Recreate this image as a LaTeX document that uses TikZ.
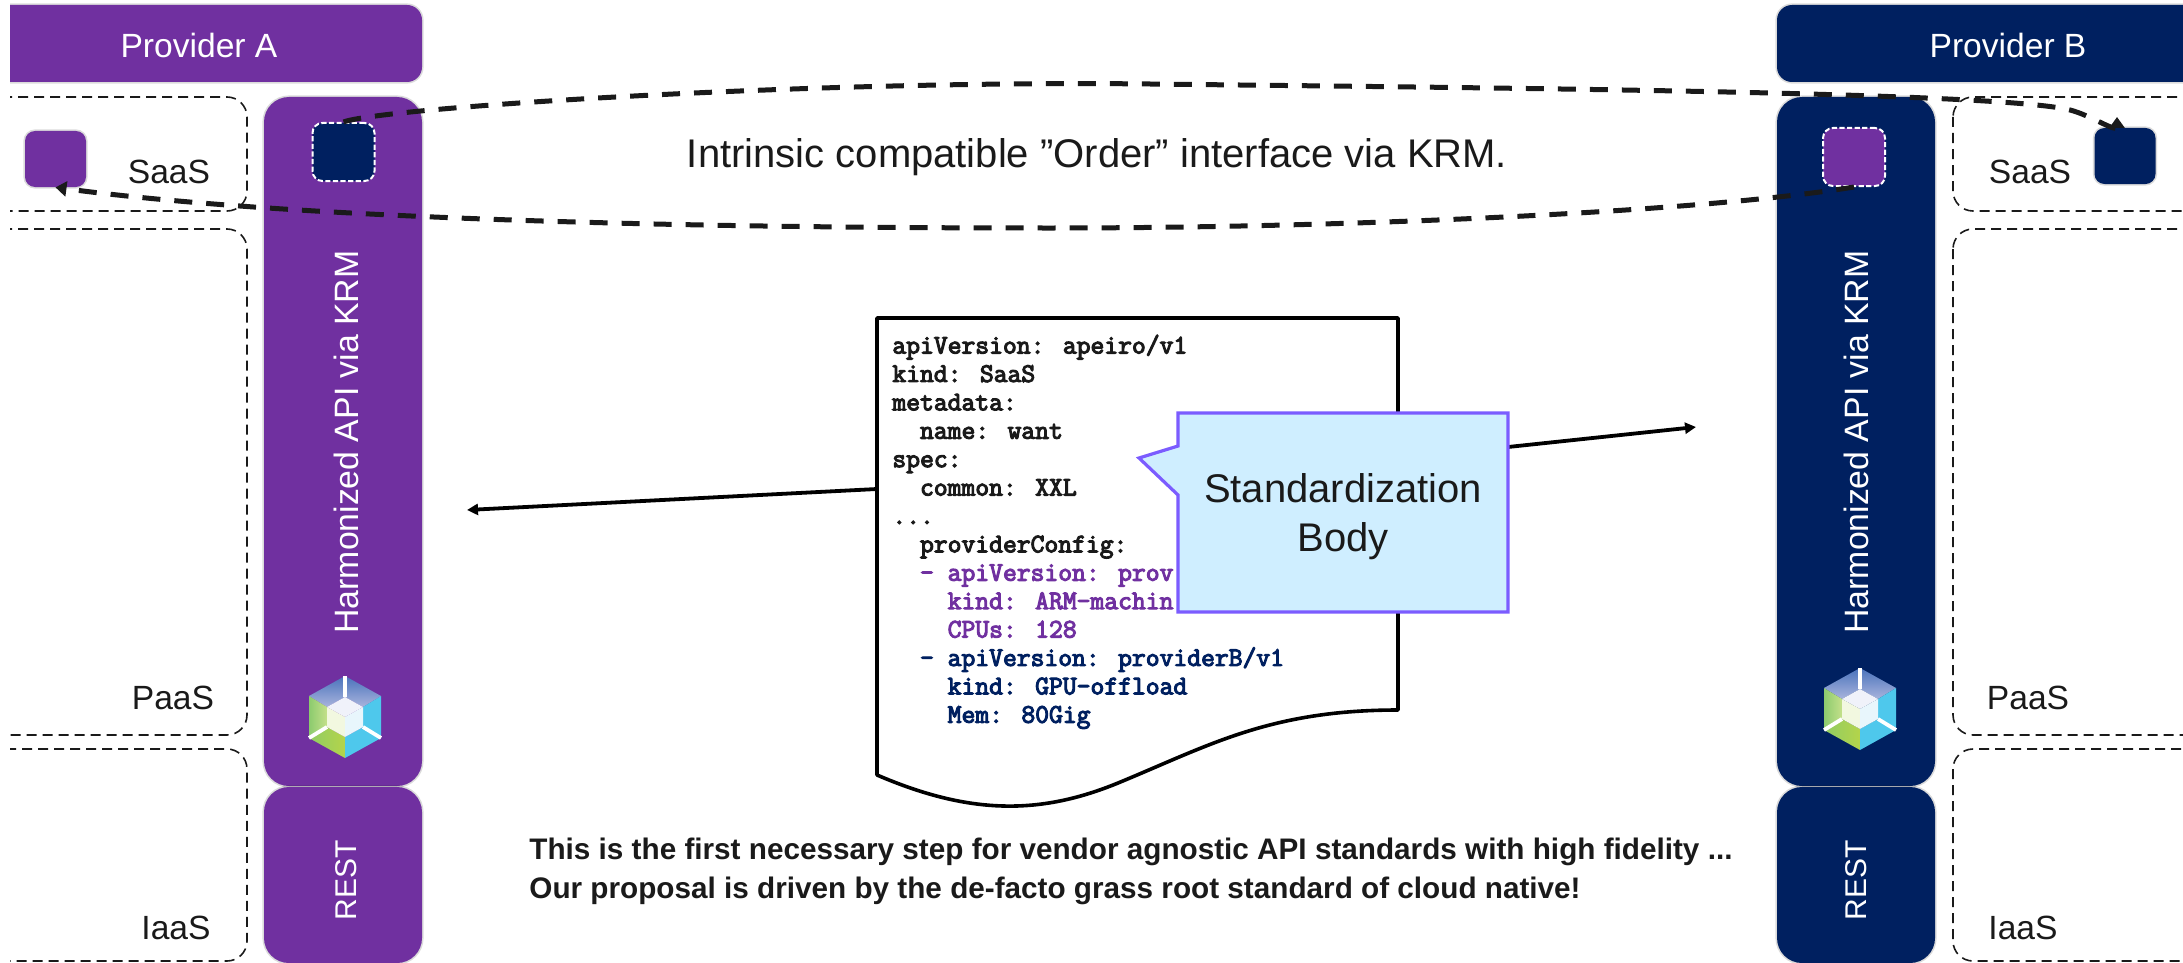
\documentclass[tikz,border=0pt]{standalone}
\usepackage{fontspec}
\setmainfont{Liberation Sans}
\newfontfamily\codefont[FakeBold=4]{Latin Modern Mono}
\usetikzlibrary{arrows.meta}
\definecolor{provA}{HTML}{7030A0}
\definecolor{provB}{HTML}{002060}
\definecolor{ink}{HTML}{1A1A1A}
\definecolor{calloutfill}{HTML}{CFEEFF}
\definecolor{calloutline}{HTML}{7B5CFF}
\definecolor{hexTopA}{HTML}{4A72BC}
\definecolor{hexTopB}{HTML}{A8B4DC}
\definecolor{hexLeftA}{HTML}{8CCB6E}
\definecolor{hexLeftB}{HTML}{C4E08A}
\definecolor{hexBotA}{HTML}{90CC64}
\definecolor{hexBotB}{HTML}{B4D44A}
\definecolor{hexCyan}{HTML}{4EC8EC}
\definecolor{hexIn}{HTML}{F0F2FA}
\definecolor{hexInL}{HTML}{F2F8E0}
\definecolor{hexInR}{HTML}{E8F6FC}
\tikzset{
  x=0.5pt,y=-0.5pt,
  soft/.style={preaction={draw=black,opacity=.14,line width=1.6pt}},
  panel/.style={fill=#1,rounded corners=12.5pt,soft},
  head/.style={fill=#1,rounded corners=7.5pt,soft},
  zone/.style={draw=ink,line width=.8pt,dash pattern=on 5pt off 3pt,rounded corners=10pt},
  label/.style={text=ink,font=\fontsize{16.8}{20}\selectfont,inner sep=0pt},
  wlabel/.style={text=white,font=\fontsize{16.8}{20}\selectfont,inner sep=0pt},
  chip/.style={minimum width=30.5pt,minimum height=28pt,inner sep=0pt,rounded corners=5pt,fill=#1,soft},
  chipd/.style={minimum width=31pt,minimum height=29pt,inner sep=0pt,rounded corners=5pt,fill=#1,draw=white,line width=1pt,dash pattern=on 2.6pt off 1.2pt},
  link/.style={draw=ink,line width=2.5pt,dash pattern=on 9pt off 7pt,-{Triangle[length=5.5pt,width=7.5pt]}},
  flow/.style={draw=black,line width=1.9pt,-{Triangle[length=5.5pt,width=5.5pt]}},
}
\newcommand{\apihex}[2]{%
  \begin{scope}[shift={(#1,#2)}]
    \shade[top color=hexTopA, bottom color=hexTopB] (0,-41)--(36,-21)--(18,-10)--(0,-20)--(-18,-10)--(-36,-21)--cycle;
    \shade[left color=hexLeftA, right color=hexLeftB] (-36,-21)--(-18,-10)--(-18,10)--(-36,21)--cycle;
    \shade[left color=hexBotA, right color=hexBotB] (-36,21)--(-18,10)--(0,20)--(0,41)--cycle;
    \fill[hexCyan] (36,-21)--(18,-10)--(18,10)--(36,21)--cycle;
    \fill[hexCyan] (36,21)--(18,10)--(0,20)--(0,41)--cycle;
    \fill[hexIn] (0,-20)--(18,-10)--(0,0)--(-18,-10)--cycle;
    \fill[hexInL] (-18,-10)--(0,0)--(0,20)--(-18,10)--cycle;
    \fill[hexInR] (18,-10)--(0,0)--(0,20)--(18,10)--cycle;
    \draw[white,line width=1.9pt] (0,-41)--(0,-20) (-36,21)--(-18,10) (36,21)--(18,10);
  \end{scope}}
\begin{document}
\begin{tikzpicture}
\useasboundingbox (0,0) rectangle (2183,963);
\begin{scope}
\clip (10,0) rectangle (2183,963);
% left column
\path[head=provA] (-40,5) rectangle (422,82);
\node[wlabel] (provAlabel) at (199,45) {Provider A};
\draw[zone] (-40,97) rectangle (247,211);
\draw[zone] (-40,229) rectangle (247,735);
\draw[zone] (-40,749) rectangle (247,961);
\path[panel=provA] (264,97) rectangle (422,786);
\path[panel=provA] (264,787) rectangle (422,963);
\node[label] (saasA) at (169,172) {SaaS};
\node[label] (paasA) at (173,698) {PaaS};
\node[label] (iaasA) at (176,928) {IaaS};
\node[wlabel,rotate=90,font=\fontsize{16.9}{20}\selectfont] (apiA) at (346,442) {Harmonized API via KRM};
\node[wlabel,rotate=90,font=\fontsize{15}{20}\selectfont] (restA) at (346,880) {REST};
\apihex{345}{717}
\node[chip=provA] (sqA) at (55.5,159) {};
\node[chipd=provB] (hostA) at (343.5,152) {};
% right column
\path[head=provB] (1777,5) rectangle (2230,82);
\node[wlabel] (provBlabel) at (2008,45) {Provider B};
\draw[zone] (1953,97) rectangle (2230,211);
\draw[zone] (1953,229) rectangle (2230,735);
\draw[zone] (1953,749) rectangle (2230,961);
\path[panel=provB] (1777,97) rectangle (1935,786);
\path[panel=provB] (1777,787) rectangle (1935,963);
\node[label] (saasB) at (2030,172) {SaaS};
\node[label] (paasB) at (2028,698) {PaaS};
\node[label] (iaasB) at (2023,928) {IaaS};
\node[wlabel,rotate=90,font=\fontsize{16.9}{20}\selectfont] (apiB) at (1856,442) {Harmonized API via KRM};
\node[wlabel,rotate=90,font=\fontsize{15}{20}\selectfont] (restB) at (1856,880) {REST};
\apihex{1860}{709}
\node[chip=provB] (sqB) at (2125,156) {};
\node[chipd=provA] (hostB) at (1854,157) {};
\coordinate (sqBtip) at (2117,117);
% centre
\node[label,font=\fontsize{20}{24}\selectfont] (title) at (1097,157) {Intrinsic compatible ”Order” interface via KRM.};
\coordinate (docL) at (877,489);
\coordinate (docR) at (1508,447);
\coordinate (leftEnd) at (467,510);
\coordinate (rightEnd) at (1696,427);
\draw[flow] (docL) -- (leftEnd);
\draw[flow] (docR) -- (rightEnd);
\draw[black,fill=white,line width=1.8pt,line join=round] (877,318) -- (1398,318) -- (1398,710)
  .. controls (1270,710) and (1210,745) .. (1118,783)
  .. controls (1040,815) and (970,815) .. (877,775) -- cycle;
\node[anchor=north west,inner sep=0pt,align=left,font=\codefont\fontsize{13.42}{14.2}\selectfont,text=ink] (yaml) at (892,334.5) {%
apiVersion: apeiro/v1\\
kind: SaaS\\
metadata:\\
~~name: want\\
spec:\\
~~common: XXL\\
...\\
~~providerConfig:\\
\textcolor{provA}{~~- apiVersion: prov}\\
\textcolor{provA}{~~~~kind: ARM-machin}\\
\textcolor{provA}{~~~~CPUs: 128}\\
\textcolor{provB}{~~- apiVersion: providerB/v1}\\
\textcolor{provB}{~~~~kind: GPU-offload}\\
\textcolor{provB}{~~~~Mem: 80Gig}};
\draw[draw=calloutline,fill=calloutfill,line width=1.6pt,line join=miter] (1178,413) -- (1508,413) -- (1508,612) -- (1178,612) -- (1178,495) -- (1139,458) -- (1178,446) -- cycle;
\node[label,align=center,font=\fontsize{20}{24.5}\selectfont] (body) at (1343,517) {Standardization\\Body};
\node[anchor=north west,inner sep=0pt,align=left,text=ink,font=\bfseries\fontsize{14.85}{19.5}\selectfont] (note) at (529,838) {This is the first necessary step for vendor agnostic API standards with high fidelity ...\\Our proposal is driven by the de-facto grass root standard of cloud native!};
% dashed links
\draw[link] (hostA.north) .. controls (380,108) and (800,80) .. (1150,84) .. controls (1500,88) and (2000,92) .. (2070,110) .. controls (2090,115) and (2117,133) .. (sqBtip);
\draw[link] (hostB.south) .. controls (1700,212) and (1350,228) .. (1050,228) .. controls (700,228) and (300,220) .. (sqA.south);
\end{scope}
\end{tikzpicture}
\end{document}
